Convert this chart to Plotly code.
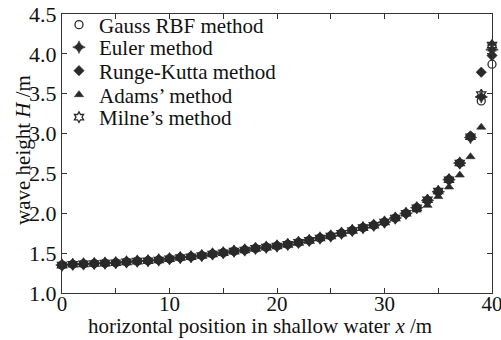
import plotly.graph_objects as go

x_pos = list(range(0, 41))

base = [1.35, 1.36, 1.365, 1.37, 1.375, 1.38, 1.39, 1.40, 1.405, 1.415,
        1.43, 1.445, 1.455, 1.47, 1.49, 1.505, 1.525, 1.54, 1.56, 1.575,
        1.59, 1.61, 1.635, 1.66, 1.69, 1.715, 1.75, 1.785, 1.82, 1.85,
        1.89, 1.94, 2.00, 2.07]

gauss = base + [2.16, 2.27, 2.42, 2.63, 2.96, 3.41, 3.87]
euler = base + [2.16, 2.27, 2.42, 2.63, 2.95, 3.46, 4.05]
runge_kutta = base + [2.17, 2.27, 2.43, 2.63, 2.97, 3.77, 3.98]
adams = base[:-1] + [2.04, 2.10, 2.21, 2.33, 2.48, 2.71, 3.08, 4.13]
milne = base + [2.17, 2.28, 2.42, 2.63, 2.96, 3.49, 4.11]

series_names = ["Gauss RBF method", "Euler method", "Runge-Kutta method",
                "Adams\u2019 method", "Milne\u2019s method"]
series_values = [gauss, euler, runge_kutta, adams, milne]
symbols = ["circle-open", "star-diamond", "diamond", "triangle-up", "hexagram-open"]

x_tickvals = [0, 5, 10, 15, 20, 25, 30, 35, 40]
x_ticktext = ["0", "", "10", "", "20", "", "30", "", "40"]
y_tickvals = [1.0, 1.5, 2.0, 2.5, 3.0, 3.5, 4.0, 4.5]
y_ticktext = ["1.0", "1.5", "2.0", "2.5", "3.0", "3.5", "4.0", "4.5"]

FONT = "Liberation Serif, Times New Roman, serif"
COL = "#2a2a2a"

fig = go.Figure()
legend_ids = ["legend", "legend2", "legend3", "legend4", "legend5"]
legend_px = [25, 47.5, 71, 95, 117.5]

for name, vals, sym, lid in zip(series_names, series_values, symbols, legend_ids):
    open_sym = sym.endswith("-open")
    fig.add_trace(go.Scatter(
        x=x_pos, y=vals, mode="markers", name=name, legend=lid,
        cliponaxis=False,
        marker=dict(symbol=sym, size=9 if sym == "star-diamond" else 8,
                    color=COL,
                    line=dict(color=COL, width=1.3 if open_sym else 0.6)),
    ))

plot_top, plot_bottom = 14, 293
ph = plot_bottom - plot_top
layout_legends = {}
for lid, ypx in zip(legend_ids, legend_px):
    layout_legends[lid] = dict(
        x=(59 - 62) / 430, xanchor="left", y=(plot_bottom - ypx) / ph, yanchor="middle",
        bgcolor="rgba(0,0,0,0)", borderwidth=0,
        font=dict(family=FONT, size=21, color="#111"),
        itemwidth=30,
    )

fig.update_layout(
    width=501, height=340,
    margin=dict(l=62, r=9, t=14, b=47, autoexpand=False),
    paper_bgcolor="white", plot_bgcolor="white",
    font=dict(family=FONT, size=21, color="#111"),
    showlegend=True,
    **layout_legends,
)

fig.update_xaxes(
    range=[0, 40], tickvals=x_tickvals, ticktext=x_ticktext,
    ticks="inside", ticklen=5, tickwidth=1, tickcolor="#333",
    showline=True, linecolor="#333", linewidth=1, mirror="ticks",
    showgrid=False, zeroline=False, automargin=False,
    ticklabelstandoff=-8, ticklabeloverflow="allow",
    tickfont=dict(family=FONT, size=21, color="#111"),
)
fig.update_yaxes(
    range=[1.0, 4.5], tickvals=y_tickvals, ticktext=y_ticktext,
    ticks="inside", ticklen=5, tickwidth=1, tickcolor="#333",
    showline=True, linecolor="#333", linewidth=1, mirror="ticks",
    showgrid=False, zeroline=False, automargin=False, ticklabeloverflow="allow",
    tickfont=dict(family=FONT, size=22, color="#111"),
)

fig.add_annotation(
    text="horizontal position in shallow water <i>x</i> /m",
    xref="paper", yref="paper", x=(260 - 62) / 430, y=(293 - 326) / ph,
    xanchor="center", yanchor="middle", showarrow=False,
    font=dict(family=FONT, size=21, color="#111"),
)
fig.add_annotation(
    text="wave height <i>H</i> /m",
    xref="paper", yref="paper", x=(23 - 62) / 430, y=(293 - 150) / ph,
    xanchor="center", yanchor="middle", showarrow=False, textangle=-90,
    font=dict(family=FONT, size=21, color="#111"),
)

fig.write_html("out.html", config={"displayModeBar": False},
               post_script="document.body.style.margin='0';")
